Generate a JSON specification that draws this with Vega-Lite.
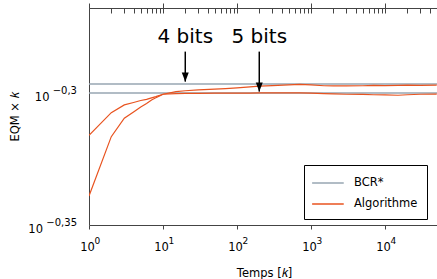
{
  "$schema": "https://vega.github.io/schema/vega-lite/v6.json",
  "width": 350,
  "height": 217,
  "autosize": {"type": "none"},
  "padding": {"left": 89, "top": 8, "right": -2, "bottom": 54},
  "background": "white",
  "config": {
    "view": {"stroke": "#444", "strokeWidth": 1},
    "font": "DejaVu Sans",
    "axis": {
      "labelFont": "DejaVu Sans",
      "titleFont": "DejaVu Sans",
      "labelColor": "#000",
      "titleColor": "#000",
      "domain": false,
      "grid": false,
      "labelFontSize": 11.5,
      "titleFontSize": 11.5,
      "titleFontWeight": "normal",
      "labelFlush": false,
      "labelOverlap": false
    },
    "legend": {
      "orient": "none",
      "legendX": 215,
      "legendY": 157,
      "symbolType": "M-1.25,0H2.75",
      "symbolSize": 250,
      "symbolStrokeWidth": 1.5,
      "labelFont": "DejaVu Sans",
      "labelFontSize": 11.5,
      "labelColor": "#000",
      "labelOffset": 23,
      "padding": 9,
      "rowPadding": 6,
      "strokeColor": "#000",
      "fillColor": "#fff",
      "cornerRadius": 0
    }
  },
  "datasets": {
    "bcr": [
      {"bits": "4 bits", "methode": "BCR*", "eqm": 0.50514},
      {"bits": "5 bits", "methode": "BCR*", "eqm": 0.50119}
    ],
    "courbes": [
      {"serie": "5 bits", "methode": "Algorithme", "k": 1, "eqm": 0.48303},
      {"serie": "5 bits", "methode": "Algorithme", "k": 2, "eqm": 0.49265},
      {"serie": "5 bits", "methode": "Algorithme", "k": 3, "eqm": 0.49597},
      {"serie": "5 bits", "methode": "Algorithme", "k": 4, "eqm": 0.49701},
      {"serie": "5 bits", "methode": "Algorithme", "k": 5, "eqm": 0.49788},
      {"serie": "5 bits", "methode": "Algorithme", "k": 6, "eqm": 0.49835},
      {"serie": "5 bits", "methode": "Algorithme", "k": 7, "eqm": 0.49905},
      {"serie": "5 bits", "methode": "Algorithme", "k": 8, "eqm": 0.49957},
      {"serie": "5 bits", "methode": "Algorithme", "k": 9, "eqm": 0.5001},
      {"serie": "5 bits", "methode": "Algorithme", "k": 10, "eqm": 0.50062},
      {"serie": "5 bits", "methode": "Algorithme", "k": 15, "eqm": 0.50092},
      {"serie": "5 bits", "methode": "Algorithme", "k": 20, "eqm": 0.50097},
      {"serie": "5 bits", "methode": "Algorithme", "k": 30, "eqm": 0.50101},
      {"serie": "5 bits", "methode": "Algorithme", "k": 50, "eqm": 0.50106},
      {"serie": "5 bits", "methode": "Algorithme", "k": 70, "eqm": 0.50106},
      {"serie": "5 bits", "methode": "Algorithme", "k": 100, "eqm": 0.50106},
      {"serie": "5 bits", "methode": "Algorithme", "k": 150, "eqm": 0.5011},
      {"serie": "5 bits", "methode": "Algorithme", "k": 200, "eqm": 0.50119},
      {"serie": "5 bits", "methode": "Algorithme", "k": 300, "eqm": 0.50119},
      {"serie": "5 bits", "methode": "Algorithme", "k": 500, "eqm": 0.50119},
      {"serie": "5 bits", "methode": "Algorithme", "k": 700, "eqm": 0.50119},
      {"serie": "5 bits", "methode": "Algorithme", "k": 1000, "eqm": 0.5011},
      {"serie": "5 bits", "methode": "Algorithme", "k": 1500, "eqm": 0.50092},
      {"serie": "5 bits", "methode": "Algorithme", "k": 2000, "eqm": 0.50075},
      {"serie": "5 bits", "methode": "Algorithme", "k": 3000, "eqm": 0.50062},
      {"serie": "5 bits", "methode": "Algorithme", "k": 5000, "eqm": 0.50053},
      {"serie": "5 bits", "methode": "Algorithme", "k": 7000, "eqm": 0.5004},
      {"serie": "5 bits", "methode": "Algorithme", "k": 10000, "eqm": 0.50031},
      {"serie": "5 bits", "methode": "Algorithme", "k": 15000, "eqm": 0.50018},
      {"serie": "5 bits", "methode": "Algorithme", "k": 20000, "eqm": 0.5004},
      {"serie": "5 bits", "methode": "Algorithme", "k": 30000, "eqm": 0.50062},
      {"serie": "5 bits", "methode": "Algorithme", "k": 50000, "eqm": 0.50066},
      {"serie": "4 bits", "methode": "Algorithme", "k": 1, "eqm": 0.45813},
      {"serie": "4 bits", "methode": "Algorithme", "k": 2, "eqm": 0.48244},
      {"serie": "4 bits", "methode": "Algorithme", "k": 3, "eqm": 0.49025},
      {"serie": "4 bits", "methode": "Algorithme", "k": 4, "eqm": 0.49295},
      {"serie": "4 bits", "methode": "Algorithme", "k": 5, "eqm": 0.4951},
      {"serie": "4 bits", "methode": "Algorithme", "k": 6, "eqm": 0.49662},
      {"serie": "4 bits", "methode": "Algorithme", "k": 7, "eqm": 0.49814},
      {"serie": "4 bits", "methode": "Algorithme", "k": 8, "eqm": 0.49909},
      {"serie": "4 bits", "methode": "Algorithme", "k": 9, "eqm": 0.49988},
      {"serie": "4 bits", "methode": "Algorithme", "k": 10, "eqm": 0.50062},
      {"serie": "4 bits", "methode": "Algorithme", "k": 15, "eqm": 0.50176},
      {"serie": "4 bits", "methode": "Algorithme", "k": 20, "eqm": 0.50215},
      {"serie": "4 bits", "methode": "Algorithme", "k": 30, "eqm": 0.5025},
      {"serie": "4 bits", "methode": "Algorithme", "k": 50, "eqm": 0.50285},
      {"serie": "4 bits", "methode": "Algorithme", "k": 70, "eqm": 0.50307},
      {"serie": "4 bits", "methode": "Algorithme", "k": 100, "eqm": 0.50338},
      {"serie": "4 bits", "methode": "Algorithme", "k": 150, "eqm": 0.50382},
      {"serie": "4 bits", "methode": "Algorithme", "k": 200, "eqm": 0.50417},
      {"serie": "4 bits", "methode": "Algorithme", "k": 300, "eqm": 0.50443},
      {"serie": "4 bits", "methode": "Algorithme", "k": 500, "eqm": 0.5047},
      {"serie": "4 bits", "methode": "Algorithme", "k": 700, "eqm": 0.50492},
      {"serie": "4 bits", "methode": "Algorithme", "k": 1000, "eqm": 0.5047},
      {"serie": "4 bits", "methode": "Algorithme", "k": 1500, "eqm": 0.50434},
      {"serie": "4 bits", "methode": "Algorithme", "k": 2000, "eqm": 0.50425},
      {"serie": "4 bits", "methode": "Algorithme", "k": 3000, "eqm": 0.50425},
      {"serie": "4 bits", "methode": "Algorithme", "k": 5000, "eqm": 0.50434},
      {"serie": "4 bits", "methode": "Algorithme", "k": 7000, "eqm": 0.50448},
      {"serie": "4 bits", "methode": "Algorithme", "k": 10000, "eqm": 0.50443},
      {"serie": "4 bits", "methode": "Algorithme", "k": 15000, "eqm": 0.50452},
      {"serie": "4 bits", "methode": "Algorithme", "k": 20000, "eqm": 0.50461},
      {"serie": "4 bits", "methode": "Algorithme", "k": 30000, "eqm": 0.50448},
      {"serie": "4 bits", "methode": "Algorithme", "k": 50000, "eqm": 0.50457}
    ],
    "fleches": [
      {"label": "4 bits", "k": 20, "haut": 0.51957, "pointe": 0.50615},
      {"label": "5 bits", "k": 200, "haut": 0.51957, "pointe": 0.50176}
    ]
  },
  "layer": [
    {
      "data": {"name": "bcr"},
      "mark": {"type": "rule", "strokeWidth": 1.5},
      "encoding": {
        "y": {
          "field": "eqm",
          "type": "quantitative",
          "scale": {"type": "log", "domain": [0.446684, 0.5397], "nice": false, "zero": false},
          "axis": {
            "orient": "left",
            "values": [0.501187, 0.446684],
            "labelExpr": "'10'",
            "ticks": false,
            "labelAlign": "right",
            "labelBaseline": "alphabetic",
            "labelPadding": {"condition": {"test": "datum.value > 0.5", "value": 40}, "value": 46.5},
            "labelOffset": {"condition": {"test": "datum.value > 0.5", "value": 8}, "value": 7},
            "title": "EQM × 𝑘",
            "titleX": -71,
            "titleBaseline": "alphabetic"
          }
        },
        "color": {
          "field": "methode",
          "type": "nominal",
          "scale": {"domain": ["BCR*", "Algorithme"], "range": ["#97a6b2", "#e8531f"]},
          "legend": {"title": null}
        }
      }
    },
    {
      "data": {"name": "courbes"},
      "mark": {"type": "line", "strokeWidth": 1.2, "clip": true},
      "encoding": {
        "x": {
          "field": "k",
          "type": "quantitative",
          "scale": {"type": "log", "domain": [1, 53670], "nice": false},
          "axis": {
            "orient": "bottom",
            "values": [1, 10, 100, 1000, 10000],
            "labelExpr": "'10'",
            "ticks": false,
            "labelAlign": "center",
            "labelBaseline": "alphabetic",
            "labelPadding": 25.5,
            "labelOffset": -2,
            "title": "Temps [𝑘]",
            "titleY": 51.5,
            "titleBaseline": "alphabetic"
          }
        },
        "y": {
          "field": "eqm",
          "type": "quantitative",
          "scale": {"type": "log", "domain": [0.446684, 0.5397], "nice": false, "zero": false},
          "axis": {
            "orient": "left",
            "values": [0.501187, 0.446684],
            "labelExpr": "datum.value > 0.5 ? '−0,3' : '−0,35'",
            "ticks": false,
            "labelFontSize": 10,
            "labelAlign": "right",
            "labelBaseline": "alphabetic",
            "labelPadding": 12.5,
            "labelOffset": {"condition": {"test": "datum.value > 0.5", "value": 0.5}, "value": 0},
            "title": null
          }
        },
        "color": {
          "field": "methode",
          "type": "nominal",
          "scale": {"domain": ["BCR*", "Algorithme"], "range": ["#97a6b2", "#e8531f"]},
          "legend": {"title": null}
        },
        "detail": {"field": "serie", "type": "nominal"}
      }
    },
    {
      "data": {"name": "fleches"},
      "mark": {"type": "rule", "strokeWidth": 1.5, "color": "#000"},
      "encoding": {
        "x": {
          "field": "k",
          "type": "quantitative",
          "scale": {"type": "log", "domain": [1, 53670], "nice": false},
          "axis": {
            "orient": "bottom",
            "values": [1, 10, 100, 1000, 10000],
            "labelExpr": "datum.value == 1 ? '0' : datum.value == 10 ? '1' : datum.value == 100 ? '2' : datum.value == 1000 ? '3' : '4'",
            "ticks": true,
            "tickSize": 4,
            "tickColor": "#444",
            "tickWidth": 1,
            "labelFontSize": 9,
            "labelAlign": "left",
            "labelBaseline": "alphabetic",
            "labelPadding": 14.5,
            "labelOffset": 5,
            "title": null
          }
        },
        "y": {
          "field": "haut",
          "type": "quantitative",
          "scale": {"type": "log", "domain": [0.446684, 0.5397], "nice": false, "zero": false},
          "axis": null
        },
        "y2": {"field": "pointe"}
      }
    },
    {
      "data": {"name": "fleches"},
      "mark": {"type": "point", "shape": "M-1,-2.6L1,-2.6L0,0Z", "filled": true, "color": "#000", "size": 49, "opacity": 1},
      "encoding": {
        "x": {
          "field": "k",
          "type": "quantitative",
          "scale": {"type": "log", "domain": [1, 53670], "nice": false},
          "axis": {
            "orient": "bottom",
            "values": [1, 2, 3, 4, 5, 6, 7, 8, 9, 10, 20, 30, 40, 50, 60, 70, 80, 90, 100, 200, 300, 400, 500, 600, 700, 800, 900, 1000, 2000, 3000, 4000, 5000, 6000, 7000, 8000, 9000, 10000, 20000, 30000, 40000, 50000],
            "labels": false,
            "ticks": false,
            "grid": true,
            "gridColor": "#444",
            "gridWidth": 1,
            "gridDash": [5, 600],
            "title": null
          }
        },
        "y": {
          "field": "pointe",
          "type": "quantitative",
          "scale": {"type": "log", "domain": [0.446684, 0.5397], "nice": false, "zero": false},
          "axis": null
        }
      }
    },
    {
      "data": {"name": "fleches"},
      "mark": {"type": "text", "fontSize": 20, "dy": -9, "baseline": "alphabetic", "align": "center", "font": "DejaVu Sans", "color": "#000"},
      "encoding": {
        "x": {
          "field": "k",
          "type": "quantitative",
          "scale": {"type": "log", "domain": [1, 53670], "nice": false},
          "axis": {
            "orient": "top",
            "values": [1, 10, 100, 1000, 10000],
            "labels": false,
            "ticks": true,
            "tickSize": 5,
            "tickColor": "#444",
            "tickWidth": 1,
            "title": null
          }
        },
        "y": {
          "field": "haut",
          "type": "quantitative",
          "scale": {"type": "log", "domain": [0.446684, 0.5397], "nice": false, "zero": false},
          "axis": null
        },
        "text": {"field": "label", "type": "nominal"}
      }
    }
  ],
  "resolve": {"axis": {"x": "independent", "y": "independent"}}
}
